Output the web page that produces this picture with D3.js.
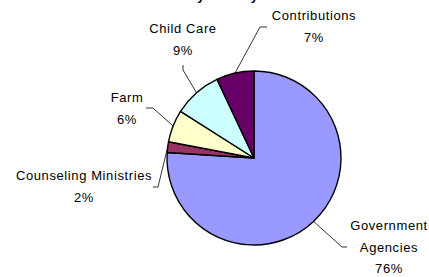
<!DOCTYPE html>
<html>
<head>
<meta charset="utf-8">
<script src="https://cdn.jsdelivr.net/npm/d3@7"></script>
<style>
  body { margin: 0; background: #fff; }
  text { font-family: "Liberation Sans", Arial, sans-serif; }
</style>
</head>
<body>
<script>
// Funding sources, clockwise from 12 o'clock
const sources = ["Government Agencies", "Counseling Ministries", "Farm", "Child Care", "Contributions"];
const shares = [76, 2, 6, 9, 7];
const sliceColors = ["#9999FF", "#993366", "#FFFFCC", "#CCFFFF", "#660066"];

// label text lines per slice
const labelLines = [
    ["Government", "Agencies", "76%"],
    ["Counseling Ministries", "2%"],
    ["Farm", "6%"],
    ["Child Care", "9%"],
    ["Contributions", "7%"]
];

const width = 429, height = 277;
const cx = 254, cy = 158, radius = 87;

// leader elbow / end and text block placement (layout only)
const labelLayout = [
    { elbow: [342, 247], end: [347, 247], tx: 389, ty: 230 },
    { elbow: [158, 187], end: [153, 187], tx: 84, ty: 180 },
    { elbow: [153, 108], end: [146, 108], tx: 127, ty: 102 },
    { elbow: [183, 70], end: [183, 65], tx: 183, ty: 33 },
    { elbow: [260, 27], end: [267, 27], tx: 314, ty: 20 }
];

const svg = d3.select("body").append("svg")
    .attr("width", width)
    .attr("height", height);

// title, mostly clipped at the top edge
svg.append("text")
    .attr("x", 258)
    .attr("y", 0)
    .attr("text-anchor", "end")
    .style("font-size", "13px")
    .style("font-weight", "bold")
    .text("Sources of Income by Ministry");

const pie = d3.pie().sort(null).value(d => d);
const arcs = pie(shares);

const arc = d3.arc().innerRadius(0).outerRadius(radius);

const g = svg.append("g").attr("transform", `translate(${cx},${cy})`);

g.selectAll("path")
    .data(arcs)
    .enter().append("path")
    .attr("d", arc)
    .attr("fill", (d, i) => sliceColors[i])
    .attr("stroke", "#000")
    .attr("stroke-width", 1.4)
    .attr("stroke-linejoin", "round");

// leader lines from slice edge at mid angle
arcs.forEach((d, i) => {
    const mid = (d.startAngle + d.endAngle) / 2;
    const sx = cx + radius * Math.sin(mid);
    const sy = cy - radius * Math.cos(mid);
    const L = labelLayout[i];
    svg.append("polyline")
        .attr("points", [[sx, sy], L.elbow, L.end].map(p => p.join(",")).join(" "))
        .attr("fill", "none")
        .attr("stroke", "#000")
        .attr("stroke-width", 0.8);

    const t = svg.append("text")
        .attr("text-anchor", "middle")
        .style("font-size", "13px")
        .style("letter-spacing", "0.6px")
        .attr("fill", "#000");
    labelLines[i].forEach((line, k) => {
        t.append("tspan")
            .attr("x", L.tx)
            .attr("y", L.ty + k * 21.5)
            .text(line);
    });
});
</script>
</body>
</html>
